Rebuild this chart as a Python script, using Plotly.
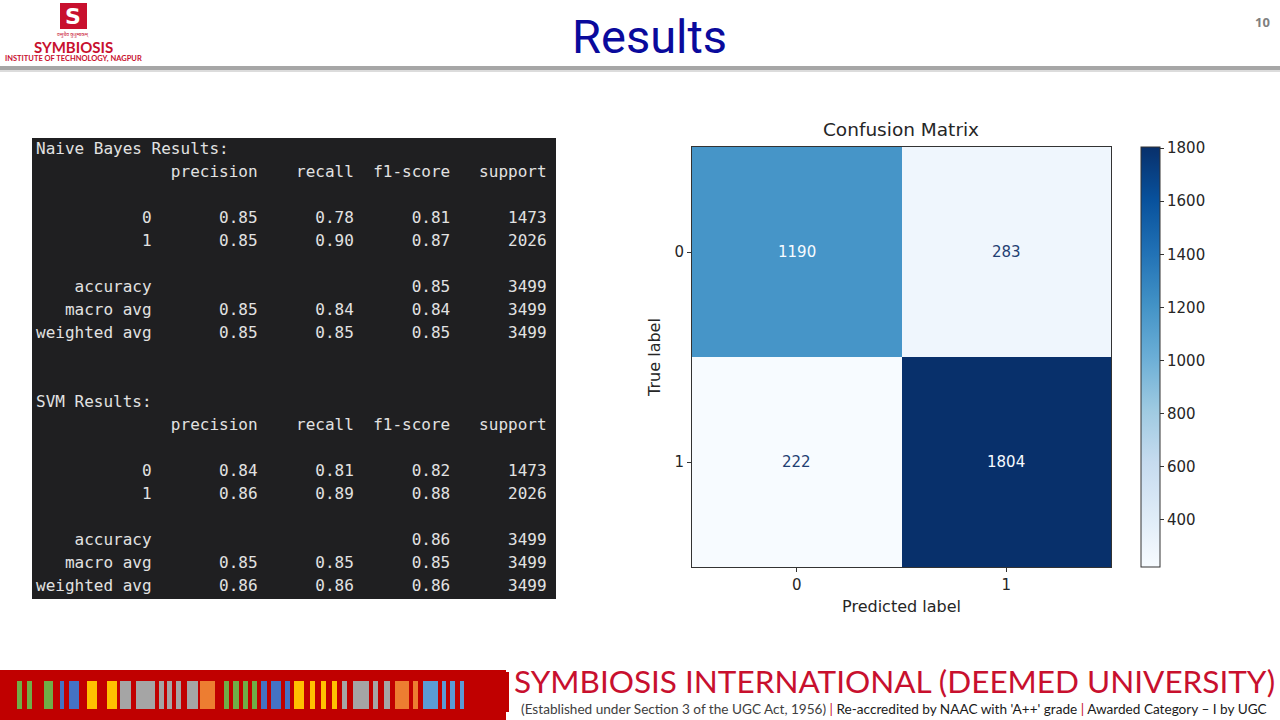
import plotly.graph_objects as go

# ---------------- data ----------------
class_labels = ["0", "1"]
cm_values = [[1190, 283],
             [222, 1804]]
cbar_ticks = [400, 600, 800, 1000, 1200, 1400, 1600, 1800]

report_headers = ["precision", "recall", "f1-score", "support"]
report_rows = ["0", "1"]
support = [1473, 2026]
total_support = 3499

nb_precision = [0.85, 0.85]
nb_recall = [0.78, 0.90]
nb_f1 = [0.81, 0.87]
nb_accuracy = 0.85
nb_macro = [0.85, 0.84, 0.84]
nb_weighted = [0.85, 0.85, 0.85]

svm_precision = [0.84, 0.86]
svm_recall = [0.81, 0.89]
svm_f1 = [0.82, 0.88]
svm_accuracy = 0.86
svm_macro = [0.85, 0.85, 0.85]
svm_weighted = [0.86, 0.86, 0.86]

W, H = 1280, 720


def px(x):
    return x / W


def py(y):
    return 1 - y / H


def report_lines(title, prec, rec, f1, acc, macro, weighted):
    width = len("weighted avg")
    lines = [title]
    lines.append(" " * width + " " + "".join(" {:>9}".format(h) for h in report_headers))
    lines.append("")
    for i, lab in enumerate(report_rows):
        lines.append("{:>{w}s} ".format(lab, w=width)
                     + " {:>9.2f}".format(prec[i]) + " {:>9.2f}".format(rec[i])
                     + " {:>9.2f}".format(f1[i]) + " {:>9}".format(support[i]))
    lines.append("")
    lines.append("{:>{w}s} ".format("accuracy", w=width) + " {:>9}".format("") * 2
                 + " {:>9.2f}".format(acc) + " {:>9}".format(total_support))
    for name, vals in (("macro avg", macro), ("weighted avg", weighted)):
        lines.append("{:>{w}s} ".format(name, w=width)
                     + "".join(" {:>9.2f}".format(v) for v in vals)
                     + " {:>9}".format(total_support))
    return lines


all_lines = (report_lines("Naive Bayes Results:", nb_precision, nb_recall, nb_f1,
                          nb_accuracy, nb_macro, nb_weighted)
             + ["", ""]
             + report_lines("SVM Results:", svm_precision, svm_recall, svm_f1,
                            svm_accuracy, svm_macro, svm_weighted))

blues = ["rgb(247,251,255)", "rgb(222,235,247)", "rgb(198,219,239)", "rgb(158,202,225)",
         "rgb(107,174,214)", "rgb(66,146,198)", "rgb(33,113,181)", "rgb(8,81,156)",
         "rgb(8,48,107)"]
colorscale = [[i / (len(blues) - 1), c] for i, c in enumerate(blues)]

zmin = min(min(r) for r in cm_values)
zmax = max(max(r) for r in cm_values)

fig = go.Figure()
fig.add_trace(go.Heatmap(
    z=cm_values, x=[0, 1], y=[0, 1],
    colorscale=colorscale, zmin=zmin, zmax=zmax,
    showscale=True, hoverinfo="skip",
    colorbar=dict(
        x=px(1141), xanchor="left", xpad=0,
        y=py(357), yanchor="middle", ypad=0,
        thickness=19, lenmode="pixels", len=420,
        outlinewidth=1, outlinecolor="#333333",
        tickmode="array", tickvals=cbar_ticks,
        ticks="outside", ticklen=4, tickcolor="#333333",
        tickfont=dict(family="DejaVu Sans", size=15, color="#262626"),
    ),
))

annotations = []
# cell labels
thresh = (zmin + zmax) / 2
for i in range(2):
    for j in range(2):
        v = cm_values[i][j]
        annotations.append(dict(
            x=j, y=i, xref="x", yref="y", text=str(v), showarrow=False,
            font=dict(family="DejaVu Sans", size=15,
                      color="#f7fbff" if v > thresh else "#1f3f73")))

# classification report text
for k, line in enumerate(all_lines):
    if not line:
        continue
    annotations.append(dict(
        x=px(34), y=py(149 + k * 22.95), xref="paper", yref="paper",
        xanchor="left", yanchor="middle", showarrow=False,
        text=line.replace(" ", "\u00a0"),
        font=dict(family="DejaVu Sans Mono", size=16, color="#e2e2e2")))

# header texts
annotations += [
    dict(x=px(649), y=py(36), xref="paper", yref="paper", text="Results",
         showarrow=False, xanchor="center", yanchor="middle",
         font=dict(family="Roboto", size=47, color="#0a0a9c")),
    dict(x=px(1262), y=py(22), xref="paper", yref="paper", text="<b>10</b>",
         showarrow=False, xanchor="center", yanchor="middle",
         font=dict(family="Open Sans", size=13, color="#7f7f7f")),
    dict(x=px(73), y=py(47), xref="paper", yref="paper", text="<b>SYMBIOSIS</b>",
         showarrow=False, xanchor="center", yanchor="middle",
         font=dict(family="Lato", size=15, color="#c8102e")),
    dict(x=px(73), y=py(58), xref="paper", yref="paper",
         text="<b>INSTITUTE OF TECHNOLOGY, NAGPUR</b>",
         showarrow=False, xanchor="center", yanchor="middle",
         font=dict(family="Lato", size=7.5, color="#c8102e")),
    dict(x=px(73), y=py(16), xref="paper", yref="paper", text="<b>S</b>",
         showarrow=False, xanchor="center", yanchor="middle",
         font=dict(family="DejaVu Sans", size=22, color="white")),
    dict(x=px(73), y=py(34), xref="paper", yref="paper", text="वसुधैव कुटुम्बकम्",
         showarrow=False, xanchor="center", yanchor="middle",
         font=dict(family="Noto Sans", size=5, color="#c8102e")),
    # footer
    dict(x=px(894), y=py(681), xref="paper", yref="paper",
         text="SYMBIOSIS INTERNATIONAL (DEEMED UNIVERSITY)",
         showarrow=False, xanchor="center", yanchor="middle",
         font=dict(family="Lato", size=31.5, color="#c8102e")),
    dict(x=px(894), y=py(709), xref="paper", yref="paper",
         text=("<span style='color:#404040'>(Established under Section 3 of the UGC Act, 1956)</span>"
               "<span style='color:#c8102e'> | </span>"
               "<span style='color:#1a1a1a'>Re-accredited by NAAC with 'A++' grade</span>"
               "<span style='color:#c8102e'> | </span>"
               "<span style='color:#1a1a1a'>Awarded Category – I by UGC</span>"),
         showarrow=False, xanchor="center", yanchor="middle",
         font=dict(family="Lato", size=13.6, color="#333333")),
]

shapes = [
    # code panel
    dict(type="rect", xref="paper", yref="paper", x0=px(32), x1=px(556),
         y0=py(599), y1=py(138), fillcolor="#1f1f21", line=dict(width=0), layer="below"),
    # header shadow line
    dict(type="rect", xref="paper", yref="paper", x0=0, x1=1, y0=py(70), y1=py(66),
         fillcolor="#a6a6a6", line=dict(width=0)),
    dict(type="rect", xref="paper", yref="paper", x0=0, x1=1, y0=py(72), y1=py(70),
         fillcolor="#dcdcdc", line=dict(width=0)),
    # logo emblem
    dict(type="rect", xref="paper", yref="paper", x0=px(60), x1=px(87),
         y0=py(29), y1=py(3), fillcolor="#c8102e", line=dict(width=0)),
    # footer red block
    dict(type="rect", xref="paper", yref="paper", x0=0, x1=px(506),
         y0=0, y1=py(670), fillcolor="#c00000", line=dict(width=0)),
    dict(type="rect", xref="paper", yref="paper", x0=px(506), x1=px(509),
         y0=py(712), y1=py(672), fillcolor="#c00000", line=dict(width=0)),
]

bar_colors = {"g": "#70ad47", "b": "#4472c4", "y": "#ffc000", "a": "#a5a5a5",
              "o": "#ed7d31", "l": "#5b9bd5"}
footer_bars = [("g", 17, 22), ("g", 27, 32), ("g", 44, 53), ("b", 60, 64), ("b", 69, 79),
               ("y", 87, 97), ("y", 107, 117), ("a", 120, 131), ("a", 136, 155),
               ("a", 159, 164), ("a", 167, 172), ("a", 176, 181), ("a", 187, 198),
               ("o", 200, 215), ("g", 224, 229), ("g", 233, 239), ("g", 243, 248),
               ("g", 252, 257), ("b", 261, 267), ("b", 271, 281), ("b", 285, 290),
               ("y", 294, 304), ("y", 310, 315), ("y", 321, 326), ("y", 332, 337),
               ("a", 342, 347), ("a", 353, 369), ("a", 373, 378), ("a", 384, 390),
               ("o", 395, 409), ("o", 413, 418), ("l", 423, 438), ("l", 442, 446),
               ("l", 450, 455), ("l", 460, 464)]
for c, a, b in footer_bars:
    shapes.append(dict(type="rect", xref="paper", yref="paper", x0=px(a), x1=px(b),
                       y0=py(709), y1=py(681), fillcolor=bar_colors[c], line=dict(width=0)))

axis_font = dict(family="DejaVu Sans", size=15, color="#262626")
fig.update_layout(
    width=W, height=H, margin=dict(l=0, r=0, t=0, b=0),
    paper_bgcolor="white", plot_bgcolor="white",
    showlegend=False,
    title=dict(text="Confusion Matrix", x=px(901), y=py(130), xref="paper", yref="paper",
               xanchor="center", yanchor="middle",
               font=dict(family="DejaVu Sans", size=18.5, color="#262626")),
    xaxis=dict(domain=[px(692), px(1111)], range=[-0.5, 1.5],
               tickmode="array", tickvals=[0, 1], ticktext=class_labels,
               ticks="outside", ticklen=4, tickcolor="#333333", tickfont=axis_font,
               showline=True, linecolor="#333333", linewidth=1, mirror=True,
               showgrid=False, zeroline=False,
               title=dict(text="Predicted label", standoff=7,
                          font=dict(family="DejaVu Sans", size=16, color="#262626"))),
    yaxis=dict(domain=[py(567), py(147)], range=[1.5, -0.5],
               tickmode="array", tickvals=[0, 1], ticktext=class_labels,
               ticks="outside", ticklen=4, tickcolor="#333333", tickfont=axis_font,
               showline=True, linecolor="#333333", linewidth=1, mirror=True,
               showgrid=False, zeroline=False,
               title=dict(text="True label", standoff=9,
                          font=dict(family="DejaVu Sans", size=16, color="#262626"))),
    annotations=annotations,
    shapes=shapes,
)

fig.write_html("out.html")
